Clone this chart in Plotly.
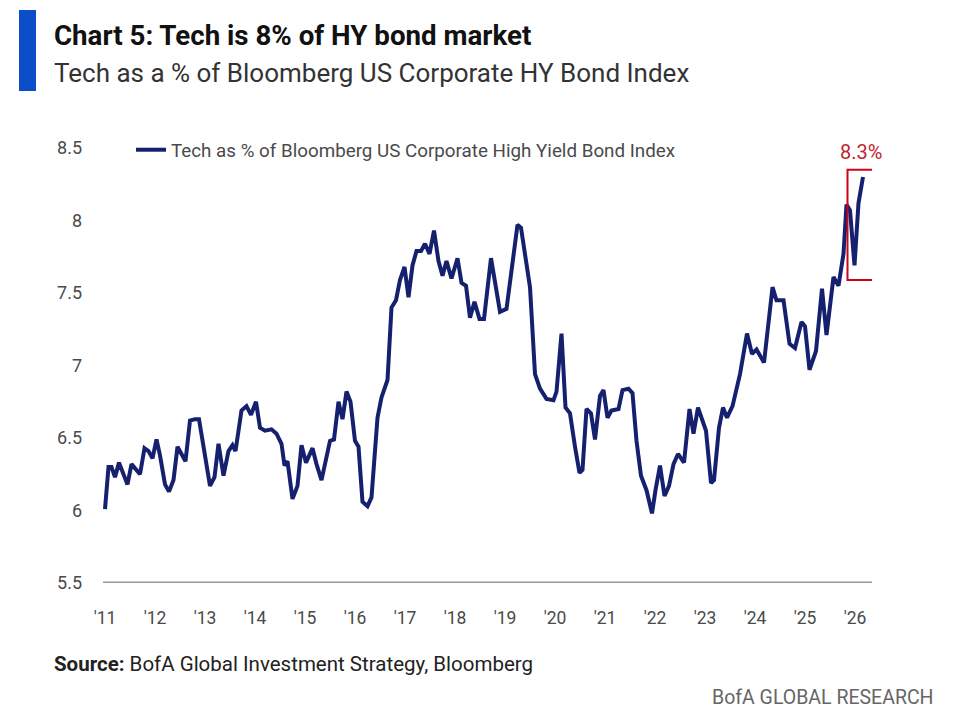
import plotly.graph_objects as go

# ---- data (decimal year, % of index) ----
years = [
    2011.00, 2011.07, 2011.13, 2011.20, 2011.28, 2011.37, 2011.45, 2011.53, 2011.60, 2011.70,
    2011.79, 2011.87, 2011.95, 2012.03, 2012.10, 2012.20, 2012.28, 2012.37, 2012.45, 2012.53,
    2012.61, 2012.70, 2012.80, 2012.88, 2013.00, 2013.10, 2013.19, 2013.27, 2013.37, 2013.47,
    2013.55, 2013.61, 2013.73, 2013.83, 2013.92, 2014.02, 2014.10, 2014.20, 2014.33, 2014.43,
    2014.53, 2014.59, 2014.65, 2014.75, 2014.85, 2014.93, 2015.02, 2015.15, 2015.23, 2015.33,
    2015.50, 2015.58, 2015.67, 2015.75, 2015.83, 2015.91, 2016.00, 2016.07, 2016.15, 2016.25,
    2016.33, 2016.45, 2016.53, 2016.65, 2016.73, 2016.82, 2016.90, 2016.99, 2017.07, 2017.15,
    2017.23, 2017.32, 2017.40, 2017.49, 2017.58, 2017.67, 2017.75, 2017.83, 2017.93, 2018.05,
    2018.13, 2018.22, 2018.30, 2018.39, 2018.49, 2018.58, 2018.72, 2018.80, 2018.90, 2019.03,
    2019.13, 2019.25, 2019.32, 2019.40, 2019.50, 2019.60, 2019.70, 2019.83, 2019.97, 2020.03,
    2020.13, 2020.21, 2020.30, 2020.40, 2020.49, 2020.55, 2020.63, 2020.72, 2020.80, 2020.90,
    2020.97, 2021.05, 2021.13, 2021.27, 2021.35, 2021.47, 2021.55, 2021.63, 2021.72, 2021.83,
    2021.94, 2022.01, 2022.10, 2022.19, 2022.28, 2022.37, 2022.46, 2022.58, 2022.69, 2022.77,
    2022.86, 2023.02, 2023.12, 2023.18, 2023.28, 2023.36, 2023.44, 2023.55, 2023.70, 2023.84,
    2023.94, 2024.03, 2024.18, 2024.35, 2024.43, 2024.57, 2024.69, 2024.80, 2024.93, 2025.00,
    2025.09, 2025.22, 2025.34, 2025.43, 2025.57, 2025.67, 2025.77, 2025.83, 2025.90, 2025.99,
    2026.07, 2026.16,
]
tech_share = [
    6.01, 6.30, 6.30, 6.23, 6.33, 6.24, 6.18, 6.32, 6.29, 6.25,
    6.43, 6.41, 6.36, 6.49, 6.38, 6.18, 6.13, 6.21, 6.44, 6.39,
    6.34, 6.62, 6.63, 6.63, 6.39, 6.17, 6.23, 6.46, 6.24, 6.41,
    6.45, 6.41, 6.69, 6.72, 6.66, 6.75, 6.57, 6.55, 6.56, 6.53,
    6.46, 6.31, 6.34, 6.08, 6.17, 6.45, 6.33, 6.43, 6.32, 6.21,
    6.48, 6.49, 6.75, 6.63, 6.82, 6.75, 6.48, 6.44, 6.06, 6.03,
    6.09, 6.64, 6.78, 6.90, 7.40, 7.45, 7.59, 7.68, 7.47, 7.69,
    7.79, 7.79, 7.84, 7.77, 7.93, 7.72, 7.62, 7.72, 7.60, 7.74,
    7.57, 7.55, 7.33, 7.44, 7.32, 7.32, 7.74, 7.57, 7.37, 7.39,
    7.68, 7.97, 7.95, 7.77, 7.54, 6.94, 6.84, 6.77, 6.76, 6.82,
    7.22, 6.71, 6.67, 6.44, 6.26, 6.28, 6.70, 6.67, 6.49, 6.79,
    6.83, 6.64, 6.69, 6.70, 6.83, 6.84, 6.81, 6.48, 6.24, 6.14,
    5.98, 6.14, 6.31, 6.10, 6.17, 6.32, 6.39, 6.33, 6.70, 6.53,
    6.71, 6.55, 6.19, 6.21, 6.57, 6.71, 6.64, 6.72, 6.94, 7.22,
    7.08, 7.11, 7.02, 7.54, 7.45, 7.45, 7.15, 7.12, 7.30, 7.27,
    6.97, 7.10, 7.53, 7.21, 7.61, 7.55, 7.77, 8.11, 8.07, 7.69,
    8.12, 8.30,
]
tick_years = list(range(2011, 2027))
tick_labels = ["'11", "'12", "'13", "'14", "'15", "'16", "'17", "'18",
               "'19", "'20", "'21", "'22", "'23", "'24", "'25", "'26"]
y_ticks = [5.5, 6, 6.5, 7, 7.5, 8, 8.5]
y_tick_labels = ["5.5", "6", "6.5", "7", "7.5", "8", "8.5"]
series_name = "Tech as % of Bloomberg US Corporate High Yield Bond Index"
latest_label = "8.3%"
highlight_x = [2025.85, 2026.37]
highlight_y = [7.59, 8.35]

FONT = "Roboto, 'Open Sans', sans-serif"
NAVY = "#15206e"

fig = go.Figure()
fig.add_trace(go.Scatter(
    x=years, y=tech_share, mode="lines", name=series_name,
    line=dict(color=NAVY, width=4),
    hoverinfo="skip",
))

# plot area: x 103..872 px, y 148..583 px
L, R, T, B = 103, 974 - 872, 148, 715 - 583
PW, PH = 974 - L - R, 715 - T - B


def px(xp):
    return (xp - L) / PW


def py(yp):
    return (715 - B - yp) / PH


fig.update_layout(
    width=974, height=715,
    margin=dict(l=L, r=R, t=T, b=B, pad=0),
    paper_bgcolor="white", plot_bgcolor="white",
    font=dict(family=FONT, color="#444444"),
    showlegend=True,
    legend=dict(
        x=px(131), y=py(150), xanchor="left", yanchor="middle",
        orientation="h", bgcolor="rgba(0,0,0,0)",
        font=dict(size=18.8, color="#4a4a4a", family=FONT),
        itemwidth=30,
    ),
    xaxis=dict(
        range=[2010.96, 2026.34],
        tickmode="array", tickvals=tick_years, ticktext=tick_labels,
        showgrid=False, zeroline=False,
        showline=False, ticks="",
        tickfont=dict(size=17.5, color="#4a4a4a"),
        ticklabelstandoff=22,
    ),
    yaxis=dict(
        range=[5.5, 8.5],
        tickmode="array", tickvals=y_ticks, ticktext=y_tick_labels,
        showgrid=False, zeroline=False, showline=False, ticks="",
        tickfont=dict(size=18, color="#4a4a4a"),
        ticklabelstandoff=20,
    ),
    shapes=[
        # bottom axis baseline
        dict(type="line", xref="paper", yref="y", x0=0, x1=1, y0=5.5, y1=5.5,
             line=dict(color="#9a9a9a", width=3), layer="below"),
        # highlight box around the latest readings
        dict(type="rect", xref="x", yref="y",
             x0=highlight_x[0], x1=highlight_x[1], y0=highlight_y[0], y1=highlight_y[1],
             line=dict(color="#d0021b", width=2), fillcolor="rgba(0,0,0,0)"),
        # blue title bar
        dict(type="rect", xref="paper", yref="paper",
             x0=px(19), x1=px(36), y0=py(91), y1=py(10),
             line=dict(width=0), fillcolor="#0b4ec7"),
    ],
    annotations=[
        dict(text="<b>Chart 5: Tech is 8% of HY bond market</b>", xref="paper", yref="paper",
             x=px(52), y=py(35), xanchor="left", yanchor="middle", showarrow=False,
             font=dict(size=27.7, color="#111111", family=FONT)),
        dict(text="Tech as a % of Bloomberg US Corporate HY Bond Index", xref="paper", yref="paper",
             x=px(52), y=py(73), xanchor="left", yanchor="middle", showarrow=False,
             font=dict(size=26, color="#333333", family=FONT)),
        dict(text=latest_label, xref="x", yref="paper",
             x=sum(highlight_x) / 2, y=py(152), xanchor="center", yanchor="middle",
             showarrow=False, font=dict(size=20, color="#c0262e", family=FONT)),
        dict(text="<b>Source:</b> BofA Global Investment Strategy, Bloomberg",
             xref="paper", yref="paper", x=px(52), y=py(664), xanchor="left", yanchor="middle",
             showarrow=False, font=dict(size=20.5, color="#222222", family=FONT)),
        dict(text="BofA GLOBAL RESEARCH", xref="paper", yref="paper",
             x=px(936), y=py(697), xanchor="right", yanchor="middle",
             showarrow=False, font=dict(size=19.5, color="#666666", family=FONT)),
    ],
)

fig.write_html(
    "out.html",
    config={"displayModeBar": False, "staticPlot": True},
    post_script="document.body.style.margin='0';document.body.style.overflow='hidden';",
)
